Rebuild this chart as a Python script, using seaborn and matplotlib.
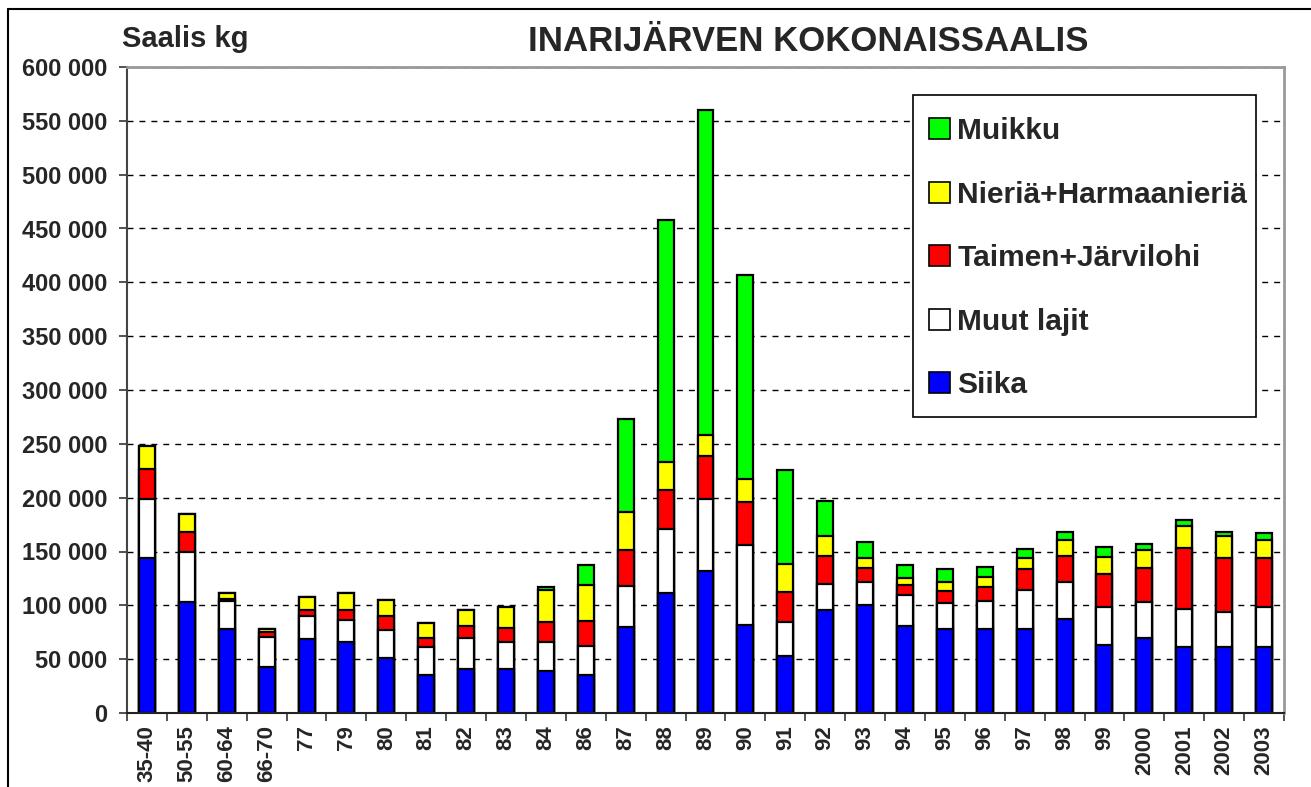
import matplotlib
matplotlib.use("Agg")
import matplotlib.pyplot as plt
import seaborn as sns
import pandas as pd
import numpy as np
from matplotlib.patches import Patch, Rectangle
from matplotlib.lines import Line2D
from matplotlib.ticker import FuncFormatter, MultipleLocator, FixedLocator

# =========================
# DATA (kg)
# =========================

years = ["35-40", "50-55", "60-64", "66-70", "77", "79", "80", "81", "82", "83",
         "84", "86", "87", "88", "89", "90", "91", "92", "93", "94",
         "95", "96", "97", "98", "99", "2000", "2001", "2002", "2003"]

siika = [144, 103, 78, 43, 68.5, 66, 51.5, 35, 40.7, 40.7,
         38.6, 35.5, 80, 111, 132, 82, 53, 96, 100, 81,
         78, 78, 78, 87, 63, 70, 61, 61, 61]

muut_lajit = [55, 47, 26, 28, 22, 20, 25.5, 26, 29.3, 25.7,
              27.8, 27, 38, 59.5, 67, 74, 31.5, 24, 22, 28.4,
              24, 25.6, 36.4, 35, 35, 33, 36, 32.4, 37.7]

taimen = [28, 18, 2, 4, 5, 9.5, 13, 9, 11, 13,
          18.5, 23, 33, 37, 40, 40, 28, 26, 13, 9.2,
          11, 13.3, 19, 24, 31.5, 32, 56, 50.3, 45]

nieria = [21, 17, 5, 3, 12.5, 15.5, 15, 14, 15, 19,
          29.3, 33, 36, 25.7, 19, 21, 26, 18.5, 9, 6.8,
          9, 9, 11, 14.5, 15, 16.5, 20.4, 20.4, 16.7]

muikku = [0, 0, 0, 0, 0, 0, 0, 0, 0, 0,
          2.5, 19, 86, 225, 302.5, 189.5, 87.5, 32, 15, 11.7,
          12, 10, 8, 8, 9.6, 5.6, 5.8, 4, 7]

series_names = ["Siika", "Muut lajit", "Taimen+Järvilohi", "Nieriä+Harmaanieriä", "Muikku"]
series_colors = ["#0000FF", "#FFFFFF", "#FF0000", "#FFFF00", "#00FF00"]

# =========================
# TABLE
# =========================

df = pd.DataFrame({
    "vuosi": years,
    "Siika": np.array(siika) * 1000,
    "Muut lajit": np.array(muut_lajit) * 1000,
    "Taimen+Järvilohi": np.array(taimen) * 1000,
    "Nieriä+Harmaanieriä": np.array(nieria) * 1000,
    "Muikku": np.array(muikku) * 1000,
})

cum = df[series_names].cumsum(axis=1)

# =========================
# PLOT
# =========================

sns.set_style("white")
plt.rcParams["font.family"] = ["Liberation Sans", "DejaVu Sans"]
plt.rcParams["font.weight"] = "bold"

W, H = 1311, 787
fig = plt.figure(figsize=(W / 100, H / 100), dpi=100)
ax = fig.add_axes([127 / W, 1 - 713 / H, (1284 - 127) / W, (713 - 67) / H])

# stacked bars: draw cumulative totals from the top layer down
for name, color in reversed(list(zip(series_names, series_colors))):
    sns.barplot(x=df["vuosi"], y=cum[name], order=years, color=color,
                edgecolor="black", linewidth=1.6, width=0.4, ax=ax,
                saturation=1, zorder=3)

ax.set_xlim(-0.5, len(years) - 0.5)
ax.set_ylim(0, 600000)
ax.yaxis.set_major_locator(MultipleLocator(50000))
ax.yaxis.set_major_formatter(FuncFormatter(lambda v, p: f"{int(v):,}".replace(",", " ")))

ax.yaxis.grid(True, color="black", linestyle=(0, (4.3, 4.3)), linewidth=1)
ax.set_axisbelow(True)

ax.set_xlabel("")
ax.set_ylabel("")

ax.tick_params(axis="y", which="major", length=6, width=1.2, color="#333333",
               pad=8, labelsize=17, left=True)
ax.tick_params(axis="x", which="major", length=0, pad=9, labelsize=16, labelrotation=90)
ax.xaxis.set_minor_locator(FixedLocator(np.arange(-0.5, len(years), 1.0)))
ax.tick_params(axis="x", which="minor", length=6, width=1.2, color="#333333", bottom=True)
for lab in ax.get_xticklabels() + ax.get_yticklabels():
    lab.set_fontweight("bold")

for side in ["top", "right"]:
    ax.spines[side].set_color("#999999")
    ax.spines[side].set_linewidth(2)
ax.spines["left"].set_color("#444444")
ax.spines["left"].set_linewidth(1.5)
ax.spines["bottom"].set_color("#222222")
ax.spines["bottom"].set_linewidth(1.5)
for sp in ax.spines.values():
    sp.set_zorder(5)

# legend (frame drawn separately so the padding matches the original)
fig.add_artist(Rectangle((913 / W, 1 - 417 / H), (1256 - 913) / W, (417 - 95) / H,
                         transform=fig.transFigure, facecolor="white",
                         edgecolor="black", linewidth=1.2, zorder=6))
handles = [Patch(facecolor=c, edgecolor="black", linewidth=1.2)
           for c in reversed(series_colors)]
leg = fig.legend(handles, list(reversed(series_names)), loc="upper left",
                 bbox_to_anchor=(929 / W, 1 - 117 / H), prop={"size": 21.5, "weight": "bold"},
                 frameon=False, handlelength=0.7, handleheight=0.7, handletextpad=0.25,
                 labelspacing=1.19, borderpad=0, borderaxespad=0)
leg.set_zorder(7)

# titles
fig.text(808 / W, 1 - 51 / H, "INARIJÄRVEN KOKONAISSAALIS", ha="center",
         va="baseline", fontsize=25, fontweight="bold")
fig.text(122 / W, 1 - 47 / H, "Saalis kg", ha="left", va="baseline",
         fontsize=21, fontweight="bold")

# outer chart frame (left and top edges)
fig.add_artist(Line2D([8 / W, 8 / W], [0, 1 - 9 / H], transform=fig.transFigure,
                      color="black", linewidth=1.5))
fig.add_artist(Line2D([8 / W, 1], [1 - 9 / H, 1 - 9 / H], transform=fig.transFigure,
                      color="black", linewidth=1.5))

plt.savefig("out.png", dpi=100)
